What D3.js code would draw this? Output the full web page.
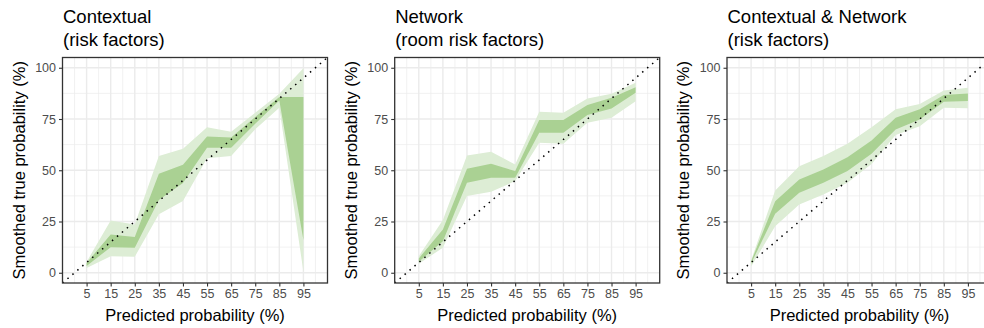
<!DOCTYPE html>
<html>
<head>
<meta charset="utf-8">
<script src="https://cdn.jsdelivr.net/npm/d3@7"></script>
<style>
  body { margin: 0; background: #fff; }
  svg { display: block; font-family: "Liberation Sans", Arial, sans-serif; }
</style>
</head>
<body>
<div class="canvas"></div>
<script>
const WIDTH = 984;
const HEIGHT = 328;

// predicted probability bins (%)
const bins = [5, 15, 25, 35, 45, 55, 65, 75, 85, 95];
const xTicks = [5, 15, 25, 35, 45, 55, 65, 75, 85, 95];
const yTicks = [0, 25, 50, 75, 100];

const titles = [
  ['Contextual', '(risk factors)'],
  ['Network', '(room risk factors)'],
  ['Contextual & Network', '(risk factors)']
];

// smoothed true probability bands (%), outer and inner
const ctxOuterLo = [2.3, 8.0, 7.8, 28.5, 35.0, 55.8, 56.9, 70.0, 80.5, 0.5];
const ctxInnerLo = [3.3, 12.5, 12.2, 35.5, 43.8, 61.0, 61.0, 72.7, 84.0, 16.0];
const ctxInnerHi = [4.8, 18.7, 17.4, 48.3, 52.7, 66.5, 66.0, 76.0, 85.7, 85.7];
const ctxOuterHi = [5.3, 25.5, 23.5, 57.0, 60.5, 71.0, 68.8, 78.0, 87.3, 99.7];

const netOuterLo = [4.4, 12.2, 37.4, 39.5, 44.7, 63.4, 62.9, 73.2, 75.6, 83.7];
const netInnerLo = [5.4, 15.4, 43.9, 46.3, 46.3, 68.3, 68.3, 76.9, 80.1, 87.8];
const netInnerHi = [7.0, 21.1, 50.7, 53.2, 49.6, 74.5, 74.5, 81.8, 85.4, 90.5];
const netOuterHi = [8.1, 25.7, 57.2, 59.0, 52.8, 78.5, 78.0, 85.0, 87.3, 92.7];

const bothOuterLo = [3.0, 22.7, 33.3, 38.2, 43.9, 53.0, 67.2, 71.5, 80.5, 80.2];
const bothInnerLo = [4.5, 28.8, 39.0, 43.9, 49.6, 58.0, 69.9, 74.8, 83.4, 83.8];
const bothInnerHi = [5.5, 34.9, 45.5, 50.4, 56.4, 64.5, 75.6, 79.7, 86.7, 87.5];
const bothOuterHi = [6.0, 40.1, 52.0, 56.9, 62.9, 71.0, 79.7, 82.3, 88.9, 90.2];

const panels = [
  { outerLo: ctxOuterLo, innerLo: ctxInnerLo, innerHi: ctxInnerHi, outerHi: ctxOuterHi },
  { outerLo: netOuterLo, innerLo: netInnerLo, innerHi: netInnerHi, outerHi: netOuterHi },
  { outerLo: bothOuterLo, innerLo: bothInnerLo, innerHi: bothInnerHi, outerHi: bothOuterHi }
];

const panelLefts = [62.5, 394.7, 727];
const panelWidth = 265;
const panelTop = 57.5;
const panelBottom = 283;

const svg = d3.select('.canvas')
  .append('svg')
    .attr('width', WIDTH)
    .attr('height', HEIGHT);

const y = d3.scaleLinear()
  .domain([-5, 105])
  .range([panelBottom, panelTop]);

panels.forEach((p, i) => {
  const left = panelLefts[i];
  const x = d3.scaleLinear()
    .domain([-5, 105])
    .range([left, left + panelWidth]);

  const g = svg.append('g');

  // clip for the panel area
  const clipId = `clip${i}`;
  svg.append('clipPath').attr('id', clipId)
    .append('rect')
      .attr('x', left).attr('y', panelTop)
      .attr('width', panelWidth).attr('height', panelBottom - panelTop);

  // minor grid
  const xMinor = d3.range(0, 101, 10);
  const yMinor = [12.5, 37.5, 62.5, 87.5];
  g.selectAll('.vminor').data(xMinor).enter().append('line')
    .attr('x1', d => x(d)).attr('x2', d => x(d))
    .attr('y1', panelTop).attr('y2', panelBottom)
    .attr('stroke', '#ebebeb').attr('stroke-width', 0.7);
  g.selectAll('.hminor').data(yMinor).enter().append('line')
    .attr('x1', left).attr('x2', left + panelWidth)
    .attr('y1', d => y(d)).attr('y2', d => y(d))
    .attr('stroke', '#ebebeb').attr('stroke-width', 0.7);

  // major grid
  g.selectAll('.vmajor').data(xTicks).enter().append('line')
    .attr('x1', d => x(d)).attr('x2', d => x(d))
    .attr('y1', panelTop).attr('y2', panelBottom)
    .attr('stroke', '#ebebeb').attr('stroke-width', 1.4);
  g.selectAll('.hmajor').data(yTicks).enter().append('line')
    .attr('x1', left).attr('x2', left + panelWidth)
    .attr('y1', d => y(d)).attr('y2', d => y(d))
    .attr('stroke', '#ebebeb').attr('stroke-width', 1.4);

  const rows = bins.map((b, k) => ({
    x: b, olo: p.outerLo[k], ilo: p.innerLo[k], ihi: p.innerHi[k], ohi: p.outerHi[k]
  }));

  const outerArea = d3.area()
    .x(d => x(d.x)).y0(d => y(d.olo)).y1(d => y(d.ohi));
  const innerArea = d3.area()
    .x(d => x(d.x)).y0(d => y(d.ilo)).y1(d => y(d.ihi));

  const plot = g.append('g').attr('clip-path', `url(#${clipId})`);
  plot.append('path').datum(rows)
    .attr('d', outerArea)
    .attr('fill', '#ddedd5');
  plot.append('path').datum(rows)
    .attr('d', innerArea)
    .attr('fill', '#aad193');

  // identity line
  plot.append('path')
    .datum([[-5, -5], [105, 105]])
    .attr('d', d3.line().x(d => x(d[0])).y(d => y(d[1])))
    .attr('fill', 'none')
    .attr('stroke', '#000')
    .attr('stroke-width', 1.5)
    .attr('stroke-linecap', 'butt')
    .attr('stroke-dasharray', '1.5,5');

  // panel border
  g.append('rect')
    .attr('x', left).attr('y', panelTop)
    .attr('width', panelWidth).attr('height', panelBottom - panelTop)
    .attr('fill', 'none')
    .attr('stroke', '#333333')
    .attr('stroke-width', 1.3);

  // axes
  const xAxisGroup = g.append('g').attr('transform', `translate(0,${panelBottom})`);
  xAxisGroup.call(d3.axisBottom(x).tickValues(xTicks).tickSize(3.5).tickPadding(3));
  const yAxisGroup = g.append('g').attr('transform', `translate(${left},0)`);
  yAxisGroup.call(d3.axisLeft(y).tickValues(yTicks).tickSize(3.5).tickPadding(3));

  [xAxisGroup, yAxisGroup].forEach(ax => {
    ax.select('.domain').remove();
    ax.selectAll('line').attr('stroke', '#333333').attr('stroke-width', 1.1);
    ax.selectAll('text')
      .attr('fill', '#4d4d4d')
      .style('font-size', '12.5px')
      .style('font-family', '"Liberation Sans", Arial, sans-serif');
  });

  // axis titles
  svg.append('text')
    .attr('x', left + panelWidth / 2 > WIDTH ? left + 132 : left + panelWidth / 2)
    .attr('y', 320.5)
    .attr('text-anchor', 'middle')
    .style('font-size', '16.5px')
    .text('Predicted probability (%)');

  svg.append('text')
    .attr('transform', `translate(${left - 38},${(panelTop + panelBottom) / 2}) rotate(-90)`)
    .attr('text-anchor', 'middle')
    .style('font-size', '16.5px')
    .text('Smoothed true probability (%)');

  // panel title
  const t = svg.append('text')
    .attr('x', left + 0.5)
    .attr('y', 23.3)
    .style('font-size', '18.5px');
  t.append('tspan').attr('x', left + 0.5).attr('y', 23.3).text(titles[i][0]);
  t.append('tspan').attr('x', left + 0.5).attr('y', 45.7).text(titles[i][1]);
});
</script>
</body>
</html>
